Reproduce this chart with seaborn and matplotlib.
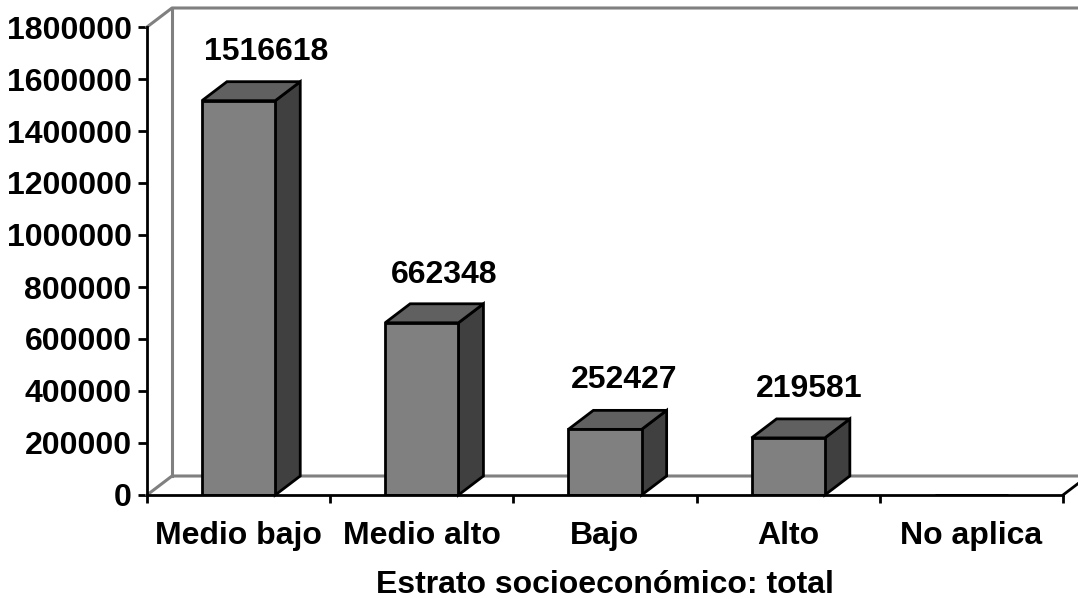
import matplotlib
matplotlib.use('Agg')
import matplotlib.pyplot as plt
import seaborn as sns
from matplotlib.patches import Polygon

categories = ['Medio bajo', 'Medio alto', 'Bajo', 'Alto', 'No aplica']
values = [1516618, 662348, 252427, 219581, 0]
y_ticks = [0, 200000, 400000, 600000, 800000, 1000000, 1200000, 1400000, 1600000, 1800000]
x_title = 'Estrato socioeconómico: total'

sns.set_theme(style='white')
plt.rcParams['font.family'] = ['Liberation Sans', 'DejaVu Sans']
plt.rcParams['font.weight'] = 'bold'

W, H = 1078, 599
L, R, B, T = 147, 1063, 495, 27   # axes box in pixels
DEPTH_X, DEPTH_Y = 25, 19         # fake 3d depth in pixels
BAR_W = 0.4
FS = 23
LW = 2.0

fig = plt.figure(figsize=(W / 100, H / 100), dpi=100, facecolor='white')
ax = fig.add_axes([L / W, 1 - B / H, (R - L) / W, (B - T) / H])

sns.barplot(x=categories, y=values, ax=ax, color='#808080', saturation=1,
            width=BAR_W, edgecolor='black', linewidth=LW, zorder=4)
ax.set_xlim(-0.5, 4.5)
ax.set_ylim(0, 1800000)

# depth in data units
dx = DEPTH_X * 5 / (R - L)
dy = DEPTH_Y * 1800000 / (B - T)

# back wall and floor
wall = dict(color='#808080', lw=2.2, clip_on=False, zorder=1, solid_capstyle='projecting')
ax.plot([-0.5, -0.5 + dx, 4.5 + dx], [1800000, 1800000 + dy, 1800000 + dy], **wall)
ax.plot([-0.5 + dx, -0.5 + dx], [dy, 1800000 + dy], **wall)
ax.plot([-0.5, -0.5 + dx, 4.5 + dx], [0, dy, dy], **wall)
ax.plot([4.5, 4.5 + dx], [0, dy], color='black', lw=LW, clip_on=False, zorder=2)

# side and top faces of the bars
for i, v in enumerate(values):
    if v == 0:
        continue
    x0, x1 = i - BAR_W / 2, i + BAR_W / 2
    top = Polygon([(x0, v), (x0 + dx, v + dy), (x1 + dx, v + dy), (x1, v)],
                  facecolor='#606060', edgecolor='black', lw=LW, clip_on=False,
                  zorder=3, joinstyle='miter')
    side = Polygon([(x1, 0), (x1 + dx, dy), (x1 + dx, v + dy), (x1, v)],
                   facecolor='#404040', edgecolor='black', lw=LW, clip_on=False,
                   zorder=3, joinstyle='miter')
    ax.add_patch(side)
    ax.add_patch(top)

# value labels
label_nudge = [28, 22, 19, 21]
label_rise = [49, 48, 49, 49]
for i, v in enumerate(values):
    if v == 0:
        continue
    ax.annotate(str(v), (i, v), xytext=(label_nudge[i], label_rise[i]),
                textcoords='offset pixels', ha='center', va='center',
                fontsize=FS, fontweight='bold', color='black', zorder=6,
                annotation_clip=False)

for s in ['top', 'right']:
    ax.spines[s].set_visible(False)
for s in ['left', 'bottom']:
    ax.spines[s].set_color('black')
    ax.spines[s].set_linewidth(LW)
    ax.spines[s].set_zorder(5)

ax.set_yticks(y_ticks)
ax.set_yticklabels([str(t) for t in y_ticks], fontsize=FS, fontweight='bold', color='black')
ax.tick_params(axis='y', left=True, length=6.5, width=LW, color='black', pad=4.5)

# ticks sit between the categories, labels under the bars
ax.set_xticks([i - 0.5 for i in range(len(categories) + 1)])
ax.set_xticklabels([])
ax.set_xticks(range(len(categories)), minor=True)
ax.set_xticklabels(categories, minor=True, fontsize=FS, fontweight='bold', color='black')
ax.tick_params(axis='x', which='major', bottom=True, length=6, width=LW, color='black')
ax.tick_params(axis='x', which='minor', bottom=True, length=0, pad=18.5)

ax.set_xlabel(x_title, fontsize=FS, fontweight='bold', color='black', labelpad=14)
ax.set_ylabel('')

fig.savefig('out.png', dpi=100)
